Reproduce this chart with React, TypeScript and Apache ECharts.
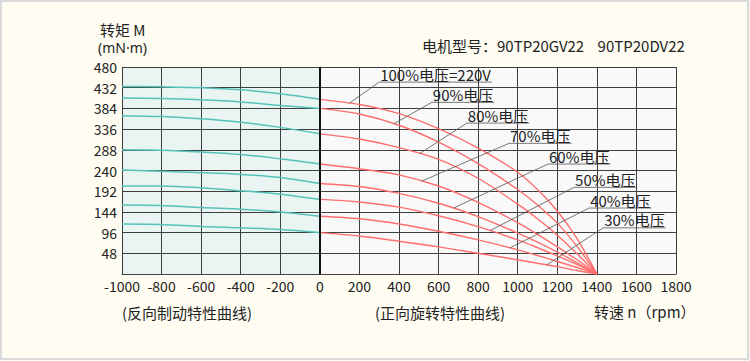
import React, { useEffect, useRef } from 'react';
import * as echarts from 'echarts';

// Speed axis (rpm)
const rpmBrake = [-1000, -800, -600, -400, -200, 0];
const rpmRun = [0, 200, 400, 600, 800, 1000, 1100, 1200, 1300, 1400];
const xTicks = { min: -1000, max: 1800, step: 200 };
const yTicks = { min: 0, max: 480, step: 48 };

const voltageLabels = ['100%电压=220V', '90%电压', '80%电压', '70%电压', '60%电压', '50%电压', '40%电压', '30%电压'];

// Reverse braking characteristic (teal), torque mN·m
const brake100 = [435, 434, 432, 427, 418, 405];
const brake90 = [408, 407, 404, 399, 391, 384];
const brake80 = [367, 365, 360, 352, 340, 325];
const brake70 = [288, 287, 283, 277, 267, 255];
const brake60 = [241, 238, 235, 231, 224, 210];
const brake50 = [204, 204, 200, 193, 185, 173];
const brake40 = [160, 159, 154, 150, 144, 134];
const brake30 = [116, 115, 110, 107, 103, 96];

// Forward rotation characteristic (red), torque mN·m
const run100 = [405, 393, 372, 337, 292, 236, 196, 146, 82, 0];
const run90 = [384, 371, 345, 306, 256, 196, 160, 118, 64, 0];
const run80 = [325, 313, 293, 266, 222, 162, 128, 90, 47, 0];
const run70 = [255, 244, 230, 204, 166, 119, 92, 63, 33, 0];
const run60 = [210, 203, 187, 164, 133, 95, 74, 51, 26, 0];
const run50 = [173, 167, 155, 135, 110, 79, 61, 42, 22, 0];
const run40 = [134, 128, 116, 99, 79, 56, 43, 29, 15, 0];
const run30 = [96, 88, 76, 63, 48, 33, 25, 17, 8, 0];

const brakeCurves = [brake100, brake90, brake80, brake70, brake60, brake50, brake40, brake30];
const runCurves = [run100, run90, run80, run70, run60, run50, run40, run30];

// Annotation layout (data coordinates): where each leader touches its curve, and where its label sits
const leaderRpm = [149, 374, 504, 514, 674, 860, 961, 1147];
const labelAnchorRpm = [300, 566, 743, 956, 1153, 1285, 1361, 1432];
const labelAnchorTorque = [445, 398, 350, 303, 255, 201, 153, 107];

const FONT = '"Noto Sans CJK SC", "Noto Sans", sans-serif';
const TEAL = '#55c3ba';
const RED = '#ff6e6e';
const TEXT = '#222';

function interp(xs: number[], ys: number[], x: number) {
  for (let i = 0; i < xs.length - 1; i++) {
    if (x >= xs[i] && x <= xs[i + 1]) {
      const t = (x - xs[i]) / (xs[i + 1] - xs[i]);
      return ys[i] + t * (ys[i + 1] - ys[i]);
    }
  }
  return ys[ys.length - 1];
}

function textWidth(s: string, size: number) {
  const c = document.createElement('canvas').getContext('2d');
  if (!c) return s.length * size * 0.6;
  c.font = `${size}px ${FONT}`;
  return c.measureText(s).width;
}

export default function App() {
  const ref = useRef<HTMLDivElement>(null);

  useEffect(() => {
    if (!ref.current) return;
    const chart = echarts.init(ref.current, null, { renderer: 'svg' });

    const series: any[] = [];
    brakeCurves.forEach((c, i) => {
      const s: any = {
        type: 'line',
        name: 'brake' + i,
        data: rpmBrake.map((x, j) => [x, c[j]]),
        smooth: 0.3,
        symbol: 'none',
        z: 3,
        lineStyle: { color: TEAL, width: 1.5 },
        silent: true,
      };
      if (i === 0) {
        s.markArea = {
          silent: true,
          z: 1,
          itemStyle: { color: '#eaf4f2' },
          data: [[{ xAxis: -1000 }, { xAxis: 0 }]],
        };
        s.markLine = {
          silent: true,
          symbol: ['none', 'none'],
          label: { show: false },
          lineStyle: { color: '#111', width: 2, type: 'solid' },
          data: [{ xAxis: 0 }],
        };
      }
      series.push(s);
    });
    runCurves.forEach((c, i) => {
      series.push({
        type: 'line',
        name: 'run' + i,
        data: rpmRun.map((x, j) => [x, c[j]]),
        smooth: 0.3,
        symbol: 'none',
        z: 3,
        lineStyle: { color: RED, width: 1.4 },
        silent: true,
      });
    });

    chart.setOption({
      animation: false,
      backgroundColor: '#fffdf2',
      textStyle: { fontFamily: FONT },
      grid: {
        left: 122,
        right: 74,
        top: 67,
        bottom: 87,
        show: true,
        backgroundColor: '#f9f9f9',
        borderWidth: 0,
      },
      xAxis: {
        type: 'value',
        min: xTicks.min,
        max: xTicks.max,
        interval: xTicks.step,
        z: 2,
        axisLine: { show: true, lineStyle: { color: '#444', width: 1 } },
        axisTick: { show: false },
        splitLine: { show: true, lineStyle: { color: '#3e3e3e', width: 1 } },
        axisLabel: { color: TEXT, fontSize: 14, fontFamily: FONT, margin: 5, formatter: (v: number) => String(v) },
      },
      yAxis: {
        type: 'value',
        min: yTicks.min,
        max: yTicks.max,
        interval: yTicks.step,
        z: 2,
        axisLine: { show: true, lineStyle: { color: '#666', width: 1 } },
        axisTick: { show: false },
        splitLine: { show: true, lineStyle: { color: '#3e3e3e', width: 1 } },
        axisLabel: {
          color: TEXT,
          fontSize: 14,
          fontFamily: FONT,
          margin: 5,
          showMinLabel: false,
          formatter: (v: number) => String(v),
        },
      },
      series,
    });

    const g: any[] = [];
    // outer frame
    g.push({
      type: 'rect',
      shape: { x: 1, y: 1, width: 747, height: 358 },
      style: { fill: 'none', stroke: '#d9d9d9', lineWidth: 2 },
      silent: true,
    });
    const txt = (text: string, x: number, y: number, size = 15, align = 'left', family = FONT) => ({
      type: 'text',
      x,
      y,
      style: { text, fill: TEXT, font: `${size}px ${family}`, align, verticalAlign: 'middle' },
      silent: true,
      z: 10,
    });
    g.push(txt('转矩 M', 100, 29));
    g.push(txt('(mN·m)', 98, 47, 14, 'left', '"Noto Sans", sans-serif'));
    g.push(txt('电机型号：90TP20GV22    90TP20DV22', 422, 45));
    g.push(txt('(反向制动特性曲线)', 187, 312, 15, 'center'));
    g.push(txt('(正向旋转特性曲线)', 440, 312, 15, 'center'));
    g.push(txt('转速 n（rpm）', 594, 311));

    voltageLabels.forEach((label, i) => {
      const target = chart.convertToPixel({ gridIndex: 0 }, [leaderRpm[i], interp(rpmRun, runCurves[i], leaderRpm[i])]) as number[];
      const anchor = chart.convertToPixel({ gridIndex: 0 }, [labelAnchorRpm[i], labelAnchorTorque[i]]) as number[];
      const w = textWidth(label, 15) + 2;
      g.push({
        type: 'line',
        shape: { x1: anchor[0], y1: anchor[1], x2: target[0], y2: target[1] },
        style: { stroke: '#555', lineWidth: 0.8 },
        silent: true,
        z: 9,
      });
      g.push({
        type: 'line',
        shape: { x1: anchor[0], y1: anchor[1], x2: anchor[0] + w, y2: anchor[1] },
        style: { stroke: '#555', lineWidth: 0.8 },
        silent: true,
        z: 9,
      });
      g.push({
        type: 'text',
        x: anchor[0] + 1,
        y: anchor[1] - 0.5,
        style: { text: label, fill: TEXT, font: `15px ${FONT}`, align: 'left', verticalAlign: 'bottom' },
        silent: true,
        z: 10,
      });
    });

    chart.setOption({ graphic: g });

    return () => chart.dispose();
  }, []);

  return <div ref={ref} style={{ position: 'fixed', left: 0, top: 0, width: 750, height: 361 }} />;
}
